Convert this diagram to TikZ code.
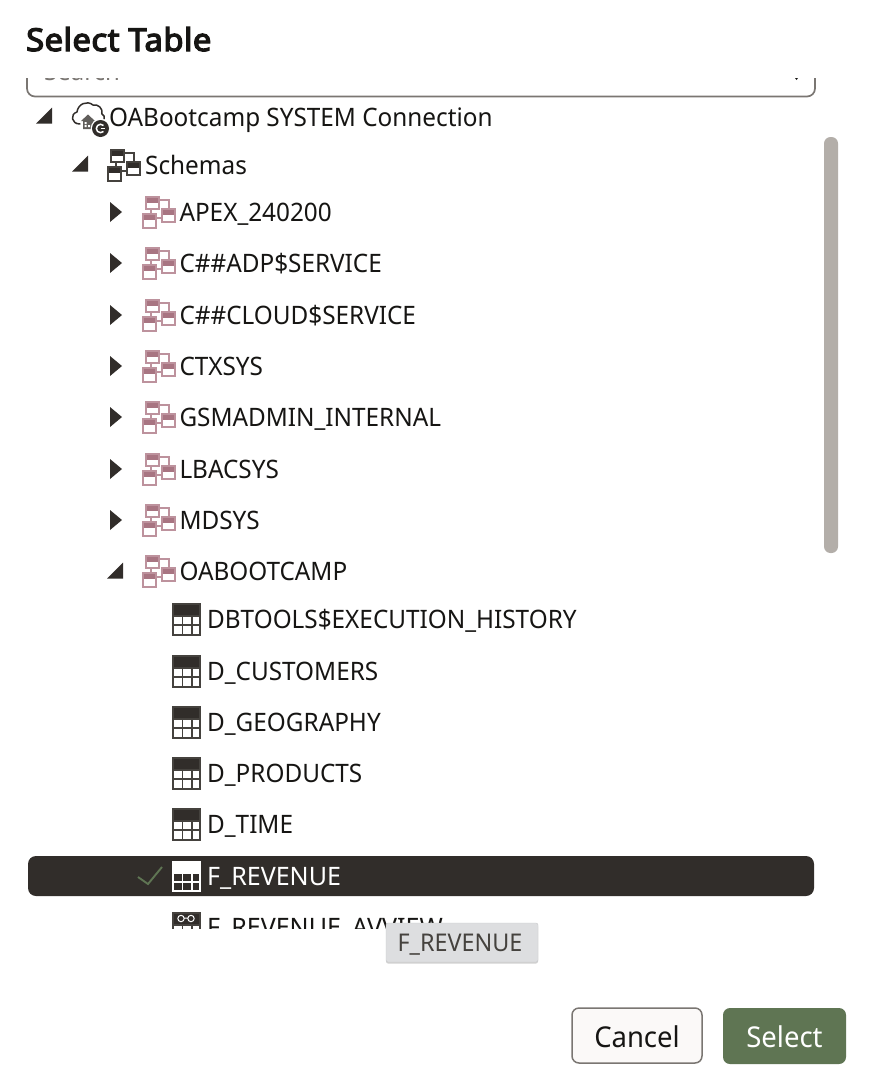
\documentclass[tikz,border=0pt]{standalone}
\usepackage{fontspec}
\setmainfont[FakeStretch=0.957]{Noto Sans}
\newfontfamily\titlefont[FakeBold=4,FakeStretch=1.04,LetterSpace=1.5]{Noto Sans}
\usetikzlibrary{shadows,calc}
\definecolor{ink}{HTML}{161513}
\definecolor{dark}{HTML}{312D2A}
\definecolor{gridc}{HTML}{45423E}
\definecolor{rose}{HTML}{A87582}
\definecolor{rosel}{HTML}{BD929D}
\definecolor{edgeg}{HTML}{7A7672}
\definecolor{barg}{HTML}{B3AEA9}
\definecolor{green}{HTML}{5F7553}
\definecolor{tipg}{HTML}{DDDEE0}
\definecolor{paper}{HTML}{FBF9F8}
\tikzset{
  label/.style={inner sep=0pt,anchor=base west,text=ink,font=\fontsize{25.4}{30}\selectfont},
  tri/.style={fill=dark,draw=none},
}
\newcommand{\triopen}[2]{\fill[tri] (#1,#2+7.5) -- (#1+16,#2+7.5) -- (#1+16,#2-8.5) -- cycle;}
\newcommand{\triclosed}[2]{\fill[tri] (#1,#2-10) -- (#1+12,#2) -- (#1,#2+10) -- cycle;}
\newcommand{\schemaicon}[4]{%
  \begin{scope}[shift={(#1,#2)}]
    \draw[#4,line width=1.5pt] (16,-12) -- (26,-12) -- (26,-3) (8,-2) -- (8,3) (13,6) -- (19,6);
    \foreach \a/\b/\c/\d in {3/-15/16/-3,19/-3/32/10,0/2/13/16}{
      \fill[white] (\a,\b) rectangle (\c,\d);
      \fill[#3] (\a,\b) rectangle (\c,\b+5.5);
      \draw[#4,line width=1.5pt] (\a,\b) rectangle (\c,\d);
    }
  \end{scope}}
\newcommand{\tableicon}[4]{%
  \begin{scope}[shift={(#1,#2)}]
    \fill[#3] (0,-16) rectangle (29,-3);
    \draw[#4,line width=1.9pt] (1,-15) rectangle (28,16.2);
    \draw[#4,line width=1.9pt] (1,-3) -- (28,-3) (1,6) -- (28,6) (10.5,-3) -- (10.5,16.2) (19.7,-3) -- (19.7,16.2);
  \end{scope}}
\newcommand{\treerow}[3]{\node[label] (#1) at (#2,#3+9) {#1};}
\begin{document}
\begin{tikzpicture}[x=1pt,y=-1pt]
\useasboundingbox (0,0) rectangle (870,1090);
\fill[white] (0,0) rectangle (870,1090);

\node[inner sep=0pt,anchor=base west,text=ink,font=\fontsize{31.5}{36}\selectfont\titlefont] (title) at (26,51) {Select Table};

\begin{scope}
  \clip (0,78) rectangle (870,110);
  \draw[edgeg,line width=1.7pt,rounded corners=8pt] (27,60) rectangle (815,96.5);
  \node[inner sep=0pt,anchor=base west,text=edgeg,font=\fontsize{25}{30}\selectfont] (search) at (44,80) {Search};
  \fill[ink] (795,78) -- (798,78) -- (796.5,80) -- cycle;
\end{scope}

\fill[barg,rounded corners=6.5pt] (824,137) rectangle (838,553);

% connection row
\triopen{36}{116}
\draw[dark,line width=1.5pt,line join=round,line cap=round]
  (80,124) .. controls (71,124) and (70,114) .. (77,112)
  .. controls (78,104) and (87,100) .. (93,105)
  .. controls (98,104) and (103,108) .. (102,114)
  .. controls (104,115) and (105,117) .. (104,119);
\fill[gridc!85] (81,121) -- (88,114.5) -- (95,121) -- (93.5,121) -- (93.5,129) -- (83,129) -- (83,121) -- cycle;
\fill[white] (84.5,122) rectangle (86.5,124) (84.5,125) rectangle (86.5,127) (88,125) rectangle (90,127);
\fill[white] (100.5,128.5) circle (9.8);
\fill[dark] (100.5,128.5) circle (8.5);
\draw[white,line width=1.5pt] (103.5,125.5) arc (-45:-315:4.2);
\draw[white,line width=1.5pt] (100.5,128.5) -- (105,128.5);
\treerow{OABootcamp SYSTEM Connection}{109}{117}

\triopen{72}{164}
\schemaicon{108}{165}{dark}{gridc}
\treerow{Schemas}{145}{165}

\foreach \n/\y in {APEX\_240200/212,C\#\#ADP\$SERVICE/263,C\#\#CLOUD\$SERVICE/315,CTXSYS/366,GSMADMIN\_INTERNAL/417,LBACSYS/469,MDSYS/520}{
  \triclosed{110}{\y}
  \schemaicon{143}{\y}{rose}{rosel}
  \node[label] at (179.3,\y+9) {\n};
}
\triopen{107}{571}
\schemaicon{143}{571}{rose}{rosel}
\node[label] (oabootcamp) at (179.3,580) {OABOOTCAMP};

\foreach \n/\y in {DBTOOLS\$EXECUTION\_HISTORY/619,D\_CUSTOMERS/671,D\_GEOGRAPHY/722,D\_PRODUCTS/773,D\_TIME/824}{
  \tableicon{172}{\y}{dark}{gridc}
  \node[label] at (207,\y+9) {\n};
}

\fill[dark,rounded corners=8pt] (28,856) rectangle (814,896);
\draw[green,line width=1.9pt] (138,877) -- (148,884) -- (162,867);
\begin{scope}[shift={(172,877)}]
  \fill[white] (0,-16) rectangle (29,-4);
  \draw[white,line width=1.9pt] (1,-15) rectangle (28,14.2);
  \draw[white,line width=1.9pt] (1,-4) -- (28,-4) (1,5) -- (28,5) (10.5,-4) -- (10.5,14.2) (19.7,-4) -- (19.7,14.2);
\end{scope}
\node[label,text=white] (selected) at (207,885) {\scalebox{1.03}[1]{F\_REVENUE}};

\begin{scope}
  \clip (0,905) rectangle (870,928);
  \tableicon{172}{928}{dark}{gridc}
  \draw[white,line width=1pt] (181,918.5) circle (3.2) (191,918.5) circle (3.2) (184,918) -- (188,918);
  \node[label] (avview) at (207,936) {\scalebox{1.03}[1]{F\_REVENUE\_AVVIEW}};
\end{scope}

\node[draw=tipg!90!black,line width=.4pt,fill=tipg,rounded corners=2pt,inner sep=0pt,minimum width=152pt,minimum height=39pt,
  text height=17pt,text depth=0pt,
  drop shadow={shadow xshift=0pt,shadow yshift=-1.5pt,opacity=.18,fill=black},
  text=gridc,font=\fontsize{24.4}{28}\selectfont] (tip) at (462,942.5) {\hspace{-4pt}F\_REVENUE};

\node[draw=edgeg,line width=1.5pt,fill=paper,rounded corners=7pt,minimum width=130pt,minimum height=55pt,inner sep=0pt,text height=23.4pt,text depth=0pt,text=ink,font=\fontsize{28.7}{32}\selectfont] (cancel) at (637,1035.5) {Cancel};
\node[fill=green,rounded corners=7pt,minimum width=123pt,minimum height=56pt,inner sep=0pt,text height=22.4pt,text depth=0pt,text=white,font=\fontsize{28.7}{32}\selectfont] (select) at (784.5,1036) {Select};
\end{tikzpicture}
\end{document}
